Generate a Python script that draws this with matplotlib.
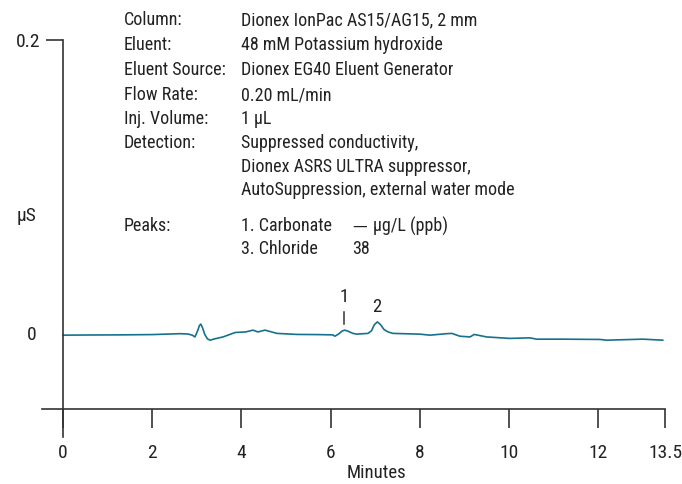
import matplotlib.pyplot as plt
from matplotlib import font_manager as fm

# chromatogram trace (minutes, uS)
minutes = [0.00, 0.50, 1.28, 2.00, 2.62, 2.80, 2.90, 2.96, 3.02, 3.06, 3.09,
           3.13, 3.18, 3.24, 3.30, 3.40, 3.59, 3.86, 4.10, 4.26, 4.37, 4.53,
           4.80, 5.25, 5.70, 6.05, 6.10, 6.18, 6.26, 6.32, 6.40, 6.50, 6.59,
           6.84, 6.92, 6.98, 7.05, 7.12, 7.20, 7.29, 7.40, 8.00, 8.23, 8.60,
           8.72, 8.90, 9.13, 9.22, 9.50, 10.02, 10.47, 10.62, 11.20, 12.04,
           12.19, 13.00, 13.45]
signal = [0.0000, 0.0001, 0.0002, 0.0004, 0.0010, 0.0008, 0.0000, -0.0012,
          0.0030, 0.0065, 0.0075, 0.0050, 0.0005, -0.0025, -0.0034, -0.0025,
          -0.0012, 0.0018, 0.0022, 0.0034, 0.0022, 0.0034, 0.0012, 0.0005,
          0.0004, 0.0002, -0.0007, 0.0008, 0.0028, 0.0034, 0.0026, 0.0012,
          0.0007, 0.0012, 0.0030, 0.0070, 0.0090, 0.0072, 0.0038, 0.0022,
          0.0012, 0.0007, 0.0000, 0.0010, 0.0012, -0.0007, -0.0012, 0.0005,
          -0.0012, -0.0022, -0.0018, -0.0027, -0.0027, -0.0029, -0.0034,
          -0.0027, -0.0034]

peak_labels = ["1", "2"]
peak_times = [6.31, 7.04]
peak_label_y = [0.0258, 0.0190]

xticks = [0, 2, 4, 6, 8, 10, 12, 13.5]
xtick_labels = ["0", "2", "4", "6", "8", "10", "12", "13.5"]

info_keys = ["Column:", "Eluent:", "Eluent Source:", "Flow Rate:",
             "Inj. Volume:", "Detection:", "", "", "Peaks:", ""]
info_vals = ["Dionex IonPac AS15/AG15, 2 mm", "48 mM Potassium hydroxide",
             "Dionex EG40 Eluent Generator", "0.20 mL/min", "1 µL",
             "Suppressed conductivity,", "Dionex ASRS ULTRA suppressor,",
             "AutoSuppression, external water mode", "1. Carbonate", "3. Chloride"]
info_rows = [20, 45, 70, 95, 119, 143, 167, 190, 226, 249]
amounts = ["—", "38"]
units = "µg/L (ppb)"

# narrow sans, like the condensed Helvetica of the original
have = {f.name for f in fm.fontManager.ttflist}
narrow = [n for n in ['Roboto Condensed', 'Archivo Narrow', 'PT Sans Narrow',
                      'Liberation Sans Narrow', 'Pragati Narrow', 'Roboto']
          if n in have][:1]
plt.rcParams['font.family'] = narrow + ['DejaVu Sans']
ink = '#333333'
txt = '#222222'

fig = plt.figure(figsize=(6.82, 4.84), dpi=100)
W, H = 682, 484
ax = fig.add_axes([42 / W, 1 - 437 / H, (665 - 42) / W, (437 - 40) / H])

ax.plot(minutes, signal, color='#17718c', lw=1.2)
ax.set_xlim(-0.47, 13.5)
ax.set_ylim(-0.069, 0.2)

for s in ['top', 'right']:
    ax.spines[s].set_visible(False)
ax.spines['left'].set_position(('data', 0))
ax.spines['bottom'].set_position(('data', -0.05))
for s in ['left', 'bottom']:
    ax.spines[s].set_color(ink)
    ax.spines[s].set_linewidth(1.2)

ax.set_xticks(xticks)
ax.set_xticklabels(xtick_labels)
ax.tick_params(axis='x', direction='out', length=13.5, width=1.2, color=ink,
               pad=12, labelsize=14, labelcolor=txt)
ax.set_yticks([0.2])
ax.set_yticklabels(["0.2"])
ax.tick_params(axis='y', direction='out', length=12, width=1.2, color=ink,
               pad=4, labelsize=14, labelcolor=txt)
ax.text(-0.6, 0, "0", fontsize=14, color=txt, ha='right', va='center')
ax.text(-0.6, 0.081, "µS", fontsize=14, color=txt, ha='right', va='center')
ax.set_xlabel("Minutes", fontsize=13.5, color=txt, labelpad=1)
ax.xaxis.label.set_x((376 - 42) / (665 - 42))

for lab, t, ly in zip(peak_labels, peak_times, peak_label_y):
    ax.text(t, ly, lab, fontsize=13.5, color=txt, ha='center', va='center')
ax.plot([peak_times[0], peak_times[0]], [0.0078, 0.0156], color=ink, lw=1.1)

fs = 13
for k, v, r in zip(info_keys, info_vals, info_rows):
    fig.text(124 / W, 1 - r / H, k, fontsize=fs, color=txt, va='center')
    fig.text(241 / W, 1 - r / H, v, fontsize=fs, color=txt, va='center')
fig.text(352 / W, 1 - 226 / H, amounts[0], fontsize=10.5, color=txt, va='center',
         family='DejaVu Sans')
fig.text(373 / W, 1 - 226 / H, units, fontsize=fs, color=txt, va='center')
fig.text(352 / W, 1 - 249 / H, amounts[1], fontsize=fs, color=txt, va='center')

fig.savefig("out.png", dpi=100)
